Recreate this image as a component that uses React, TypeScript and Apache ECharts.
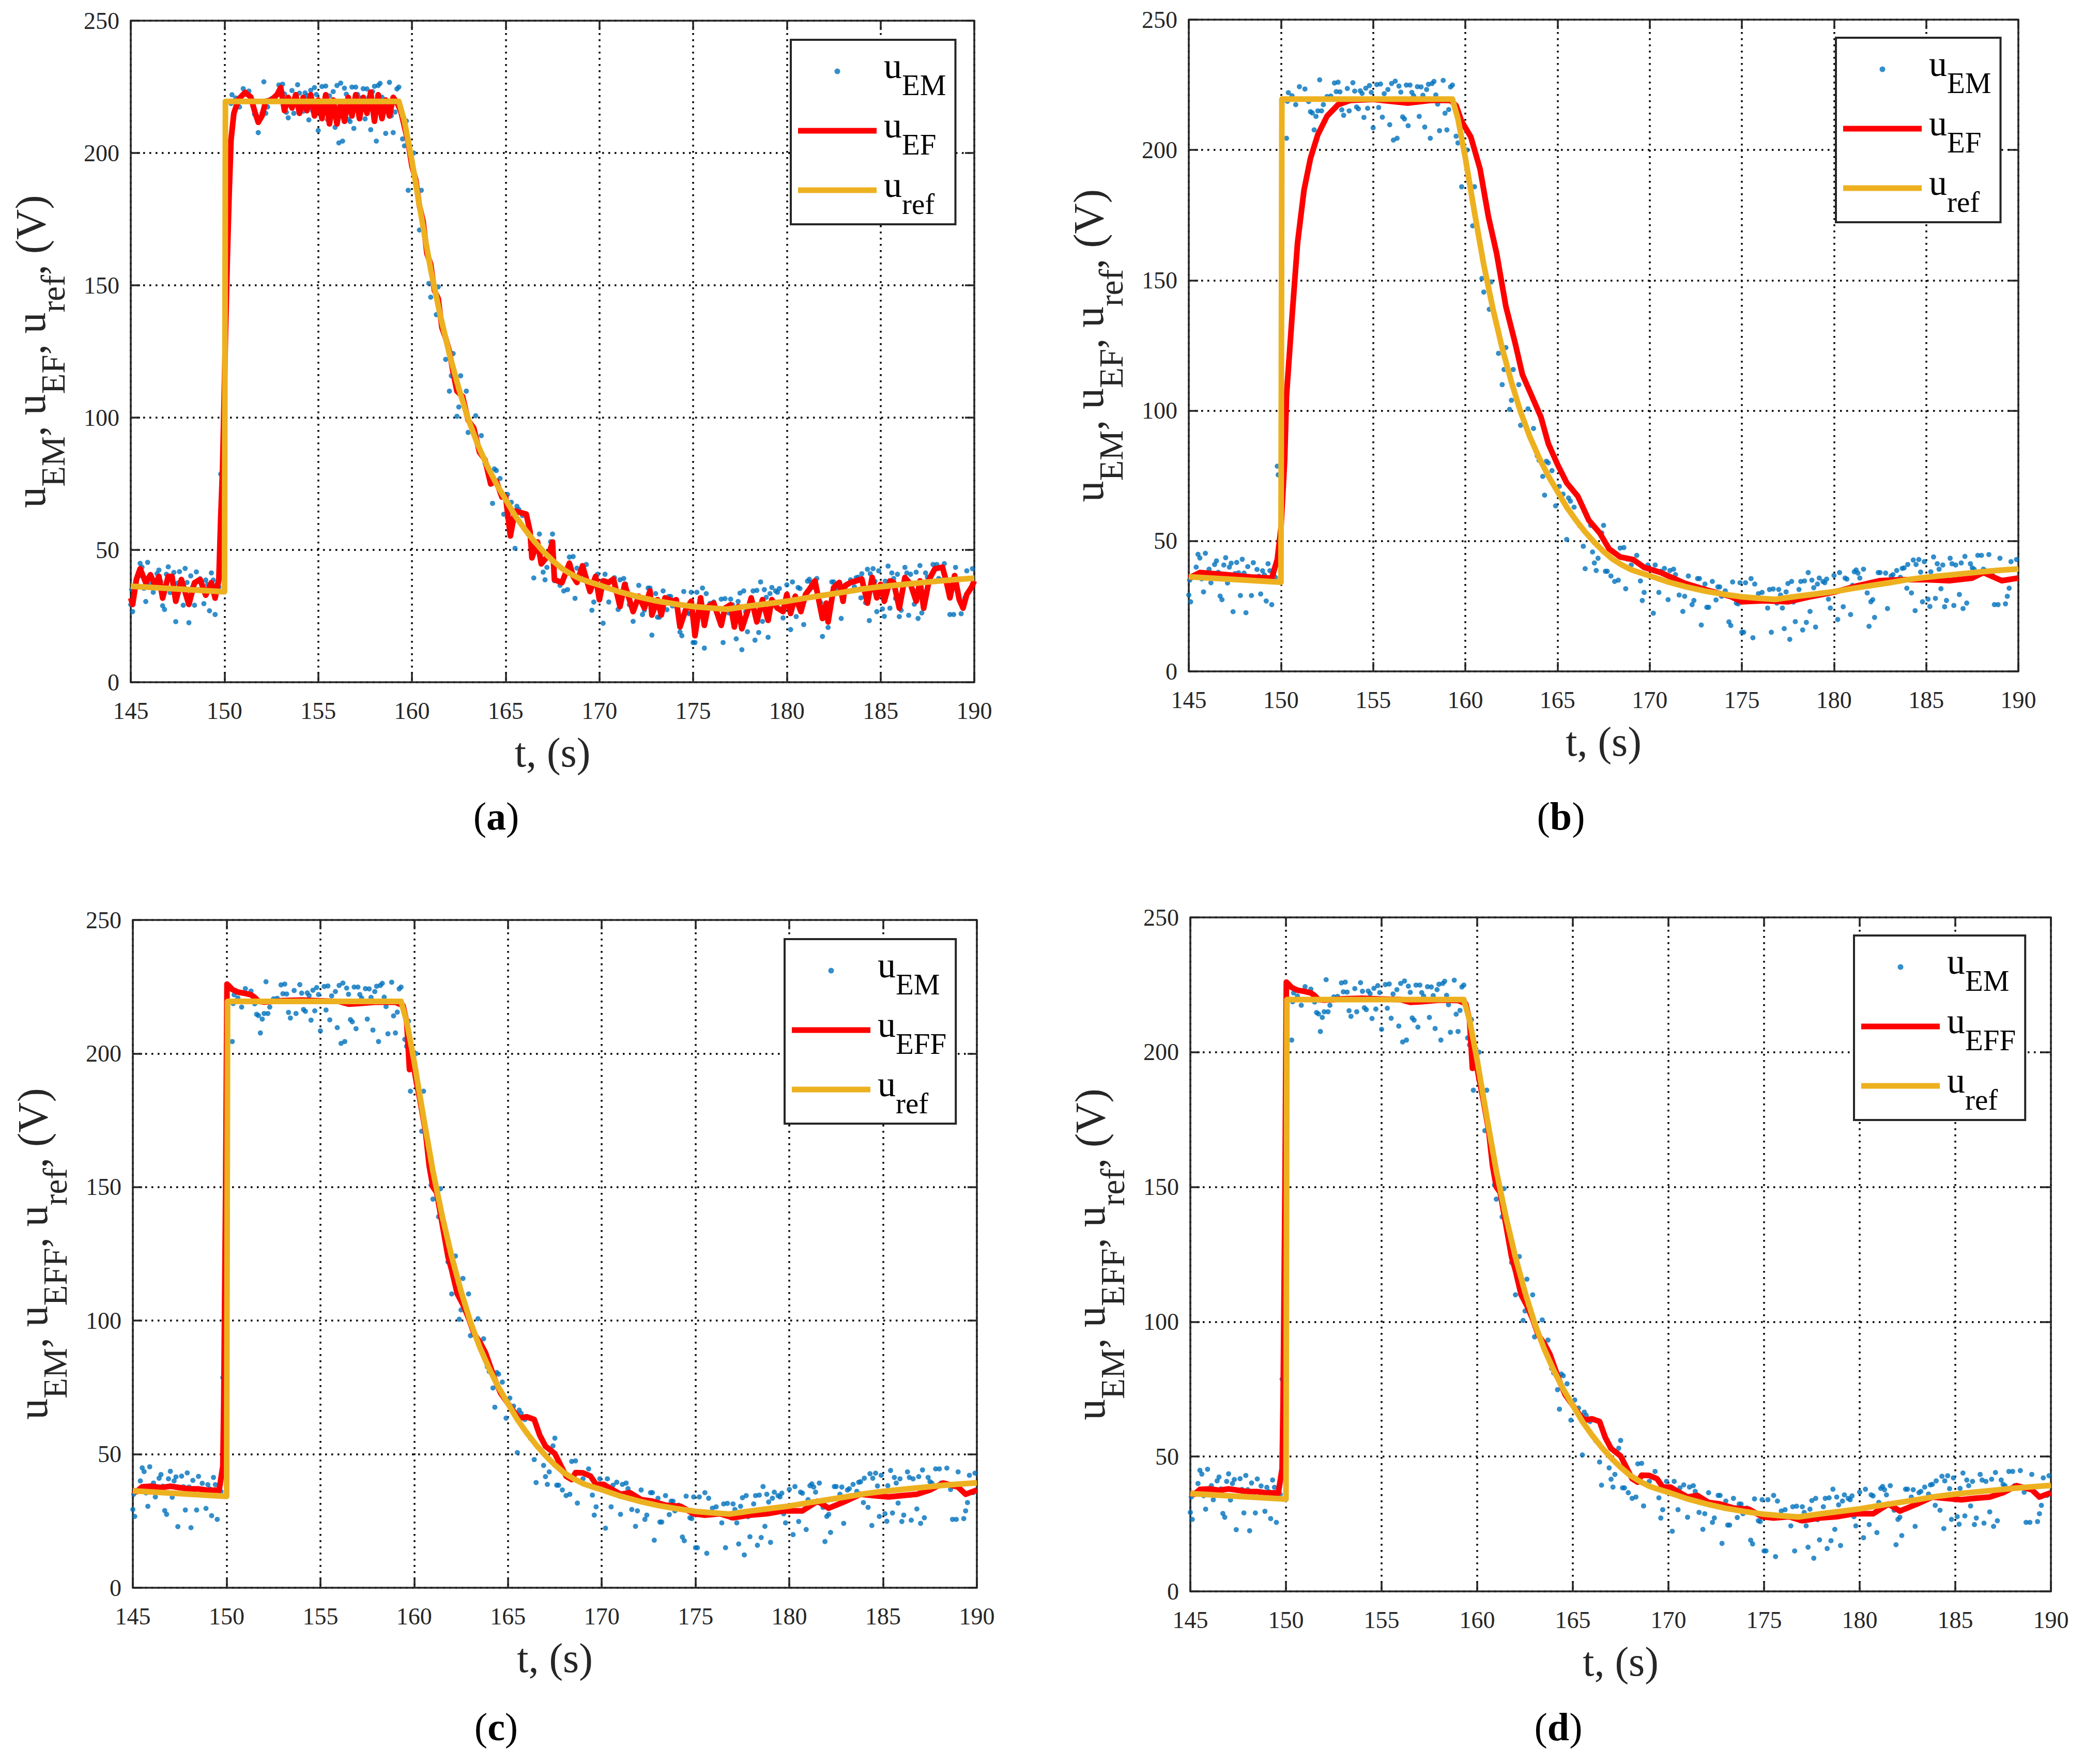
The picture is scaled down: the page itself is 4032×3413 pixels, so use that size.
import React, { useEffect, useRef } from "react";
import * as echarts from "echarts";

// ---------- data ----------
const xTicks = [145, 150, 155, 160, 165, 170, 175, 180, 185, 190];
const yTicks = [0, 50, 100, 150, 200, 250];

// measured voltage u_EM (same in all four panels): [t (s), V]
const uEM: number[][] = [
  [145.0,29.3],[145.05,35],[145.1,26.7],[145.2,36],[145.4,40],[145.5,44.9],[145.6,43.5],[145.7,35.5],[145.8,30.5],[145.9,45.3],
  [146.0,37],[146.1,39.2],[146.2,34],[146.3,36.5],[146.4,41],[146.5,42.4],[146.6,38],[146.7,28.9],[146.8,27.5],[146.9,40.8],
  [147.0,43.6],[147.1,33.9],[147.2,40],[147.3,41.5],[147.4,22.9],[147.5,37.5],[147.6,41.8],[147.7,37.8],[147.8,29.1],[147.9,43],
  [148.0,37.7],[148.1,22.5],[148.2,40.2],[148.3,36],[148.4,29.1],[148.5,41.7],[148.6,35],[148.7,39.1],[148.8,36.5],[148.9,29.7],
  [149.0,38.6],[149.1,37],[149.2,27],[149.3,41.3],[149.4,38.6],[149.5,25.6],[149.6,37],[149.7,36],[149.8,78.7],[149.85,75.4],
  [150.3,204.5],[150.35,218.7],[150.4,222],[150.6,220.8],[150.8,217.4],[151.0,224.3],[151.3,223.4],[151.5,218.6],[151.6,214.7],[151.7,214.2],
  [151.8,207.7],[151.9,212.9],[152.0,215],[152.1,226.9],[152.2,215],[152.3,217.4],[152.5,220.5],[152.7,220.7],[152.9,225.7],[153.0,222.4],
  [153.1,226],[153.2,222.3],[153.3,215.4],[153.4,213.3],[153.6,223.6],[153.7,215],[153.9,225.8],[154.0,222.6],[154.1,216.5],[154.2,215.8],
  [154.3,222.7],[154.4,221.7],[154.5,212.5],[154.6,223.7],[154.7,216],[154.8,224.7],[154.9,222.1],[155.0,208.5],[155.2,225.1],[155.3,216.3],
  [155.4,225.3],[155.5,212.6],[155.6,221.6],[155.8,223.2],[155.9,209.7],[156.0,225.5],[156.1,203.8],[156.2,226.4],[156.3,204.5],[156.4,224.5],
  [156.5,222.2],[156.6,212.7],[156.7,211.9],[156.8,224.9],[156.9,209.3],[157.0,224.9],[157.1,222.1],[157.2,220.8],[157.4,224.3],[157.5,212.9],
  [157.6,224.2],[157.7,221],[157.8,208.8],[157.9,223.2],[158.0,225.2],[158.1,204.5],[158.2,225.5],[158.3,226.3],[158.4,221.1],[158.5,217.6],
  [158.6,207.4],[158.8,226.7],[158.9,214.1],[159.0,207.7],[159.1,215.5],[159.2,224.2],[159.3,224.9],[159.5,205.3],[159.6,202.7],[159.7,212.1],
  [159.8,185.9],[160.1,200],[160.4,170.9],[160.5,185.9],[160.9,150.7],[161.0,145.5],[161.3,138.9],[161.4,149.4],[161.8,122],[162.0,110],
  [162.1,115.8],[162.2,124.2],[162.4,100.5],[162.5,104],[162.6,115.8],[162.9,110],[163.0,94.4],[163.4,100.7],[163.7,93.2],[163.9,82.7],
  [164.0,81],[164.2,74.8],[164.3,67.6],[164.4,80.6],[164.5,80],[164.7,77],[164.9,63.5],[165.1,71],[165.3,68],[165.5,50.6],
  [165.6,66.5],[165.7,65.3],[165.9,63],[166.2,55.9],[166.4,48],[166.5,39.4],[166.8,56],[166.9,45.8],[167.0,41.6],[167.1,38.7],
  [167.2,43.4],[167.4,53.1],[167.5,56],[167.6,38.4],[167.7,38.4],[167.9,36.6],[168.1,34.5],[168.3,35],[168.4,47.3],[168.6,47.5],
  [168.7,31.7],[168.8,43.1],[169.0,40.8],[169.3,44.5],[169.5,34.7],[169.6,27.2],[169.7,30.3],[169.9,40.8],
  [170.2,22.3],[170.3,40.8],[170.5,30.3],[170.6,38.4],[170.8,39.5],[171.0,27.5],[171.1,38.7],[171.3,39.2],[171.4,37.1],[171.5,33.5],
  [171.6,29.3],[171.8,23],[171.9,28.8],[172.1,36.6],[172.3,25.6],[172.4,27.2],[172.6,35.6],[172.7,35.6],[172.8,17.8],[173.0,33.5],
  [173.1,24.6],[173.2,24.6],[173.4,34.5],[173.6,27.4],[173.7,32.4],[173.8,32.4],[173.9,28.8],[174.1,30.9],[174.3,19],[174.4,17.6],
  [174.5,34.3],[174.7,26.2],[174.8,25.9],[174.9,34],[175.0,15],[175.1,15],[175.2,34],[175.4,28.2],[175.5,35.6],[175.6,12.9],
  [175.7,33.5],[175.9,29.8],[176.1,30.3],[176.4,24.3],[176.5,31.4],[176.6,15],[176.7,31.6],[176.9,26.2],[177.0,31.4],[177.1,29.3],
  [177.2,24.3],[177.3,16.4],[177.4,30.5],[177.5,33.7],[177.6,12.3],[177.7,34.5],[177.8,26.6],[177.9,19.1],[178.1,31.4],[178.2,34.5],
  [178.3,15.9],[178.4,34.7],[178.5,18.8],[178.6,37.9],[178.7,23],[178.8,35],[178.9,32.1],[179.0,17],[179.1,33.5],[179.2,35.8],
  [179.4,34.5],[179.5,34],[179.6,35.4],[179.7,27.7],[179.8,24.3],[180.0,36.8],[180.2,19.9],[180.3,37.9],[180.5,24.8],[180.6,35.8],
  [180.7,35.4],[180.9,21.8],[181.0,33],[181.1,38.2],[181.2,38.9],[181.3,37.7],[181.4,35.8],[181.6,39.2],[181.8,30.1],[181.9,17.3],
  [182.0,26.7],[182.1,27.5],[182.2,20.7],[182.4,37.9],[182.5,37.9],[182.7,35],[182.8,37.7],[182.9,24.1],[183.1,36.6],[183.2,37.1],
  [183.4,38.7],[183.6,36.1],[183.7,39.5],[183.8,39.7],[183.95,31.9],[184.0,41],[184.2,30.1],[184.3,42.7],[184.4,23.3],[184.45,41],
  [184.6,42.9],[184.7,38.1],[184.8,26.7],[184.9,42.1],[185.1,27.7],[185.2,24.9],[185.25,38.2],[185.4,43.9],[185.5,28],[185.6,41.3],
  [185.7,39.2],[185.8,31.7],[185.9,40.8],[186.0,24.8],[186.1,27.2],[186.3,43.4],[186.4,41.3],[186.5,25.3],[186.6,40.8],[186.8,29.5],
  [186.9,41.6],[187.0,24.1],[187.1,44.1],[187.2,26.2],[187.4,41.3],[187.5,39.7],[187.6,39.2],[187.8,44.5],[188.0,44.5],[188.1,39.2],
  [188.2,38.7],[188.4,44.8],[188.6,36.8],[188.7,25.6],[188.9,25.6],[189.0,43.4],[189.3,25.9],[189.4,28.8],[189.5,31.9],[189.6,42.1],
  [189.8,35.6],[189.9,42.9],
];

// reference u_ref (same in all panels)
const uRef: number[][] = [
  [145,36.3],[150.0,34.2],[150.05,219.5],[159.3,219.5],[159.6,212],[160,197],[160.5,176],[161,156],[161.5,139],[162,124],
  [162.5,111],[163,99.5],[163.5,90],[164,82],[164.5,75],[165,69],[165.5,63],[166,58],[166.5,53.5],[167,49.5],
  [167.5,46],[168,43],[168.5,40.8],[169,39],[169.5,37.8],[170,36.7],[171,34.3],[172,32.4],[173,30.8],[174,29.6],
  [175,28.6],[176,28],[176.8,27.6],[177.5,28.3],[178,28.8],[179,29.7],[180,30.6],[181,31.8],[182,32.9],[183,34],
  [184,35.2],[185,36.1],[186,36.8],[187,37.5],[188,38.2],[189,38.8],[190,39.3],
];

// panel (a): u_EF (noisy)
const uEF_a: number[][] = [
  [145.0,31.8],[145.1,29.4],[145.3,38.8],[145.5,42.9],[145.8,37.6],[146.05,40.6],[146.3,36.5],[146.5,40],[146.7,31.8],[147.0,40],
  [147.2,40],[147.4,30.6],[147.7,38.8],[148.1,29.4],[148.4,37.6],[148.7,38.8],[149.0,32.9],[149.3,37.6],[149.5,31.8],[149.7,38.8],
  [149.8,62.4],[149.9,81],[150.05,130],[150.15,160],[150.25,185],[150.35,205],[150.5,215],[150.75,220.3],[151.1,222.9],[151.4,221.2],
  [151.6,216],[151.8,211.6],[152.0,214],[152.2,219.5],[152.5,220],[152.8,222],[153.0,224.7],[153.2,216],[153.4,221],[153.6,217],
  [153.8,222],[154.0,215],[154.2,221],[154.4,216],[154.6,222],[154.8,214],[155.0,220],[155.2,213],[155.4,222],[155.6,211],
  [155.8,220],[156.0,211],[156.2,219],[156.4,212],[156.6,221],[156.8,214],[157.0,222],[157.2,213],[157.4,221],[157.6,215],
  [157.8,223],[158.0,212],[158.2,222],[158.4,213],[158.6,220],[158.8,214],[159.0,221],[159.2,219],[159.4,216],[159.6,210],
  [159.8,204],[160.0,195],[160.2,190],[160.4,180],[160.6,174],[160.8,162],[161.0,158],[161.2,148],[161.4,145],[161.6,134],
  [161.8,130],[162.0,125],[162.2,117],[162.4,110],[162.7,108],[163.0,99],[163.3,96],[163.6,87],[163.9,84],[164.2,75],
  [164.5,76],[164.8,70],[165.0,70],[165.25,55.3],[165.5,64.7],[166.1,63.5],[166.3,57],[166.4,47],[166.7,53],[166.9,44.7],
  [167.3,48.2],[167.5,53],[167.6,38.8],[168.0,37.6],[168.4,45],[168.6,40],[168.8,37.7],[169.1,44],[169.5,34.3],[169.8,40],
  [170.0,31.2],[170.2,38.3],[170.5,37.7],[170.75,39],[171.1,28.6],[171.35,37],[171.8,26.7],[172.1,32.5],[172.4,28],[172.7,34.5],
  [172.8,25.4],[173.1,31.2],[173.3,25.4],[173.5,31.9],[173.9,30.6],[174.1,31.2],[174.3,20.9],[174.6,27.3],[174.9,30.6],[175.1,17.6],
  [175.4,31.9],[175.6,21.5],[175.8,28.6],[176.1,29.9],[176.5,21.5],[176.7,28],[177.0,29.3],[177.2,20.9],[177.4,28.6],[177.6,20.2],
  [177.9,26.7],[178.1,31.9],[178.4,22.8],[178.7,31.2],[179.0,23.4],[179.2,31.2],[179.5,28],[179.8,26.7],[180.0,33.2],[180.2,26],
  [180.45,32.5],[180.75,26.7],[181.0,33.2],[181.2,35.1],[181.5,38.3],[181.9,24.1],[182.1,29.9],[182.2,22.8],[182.5,35.8],[182.8,37.7],
  [183.0,30.6],[183.1,36.4],[183.4,37.7],[183.7,38.3],[184.0,39],[184.3,29.9],[184.55,39.6],[184.8,31.9],[185.0,37],[185.2,30.6],
  [185.5,38.3],[185.7,37.7],[186.0,28],[186.3,39.6],[186.6,37],[186.9,30.6],[187.1,38.3],[187.3,28],[187.6,39],[187.9,42.9],
  [188.3,43.5],[188.5,38.3],[188.7,31.9],[188.95,40.3],[189.2,31.2],[189.4,28],[189.6,33.2],[189.85,35.8],[190.0,38.3],
];

// panel (b): u_EF (slow first-order response)
const uEF_b: number[][] = [
  [145,35.8],[145.6,37.9],[146.9,37.2],[148.4,36.2],[149.5,35.8],[149.8,42.9],[150.0,55],[150.2,81],[150.3,105.7],[150.6,136],
  [150.9,164.4],[151.25,184.6],[151.6,196.8],[152.0,205.9],[152.5,213],[153.1,217.4],[153.75,219],[155,219.4],[156.9,218],[158.1,219],
  [159.2,219],[159.5,217],[159.8,211],[160.3,205],[160.8,192.7],[161.25,174.5],[161.7,160.3],[162.2,140],[162.7,126],[163.1,113.8],
  [163.6,105.7],[164.1,97.6],[164.5,87.4],[165.0,79.4],[165.5,72.3],[166.1,67.2],[166.7,58],[167.3,53],[167.8,47],[168.4,43.9],
  [169.1,42.9],[169.7,39.9],[170.6,37.9],[171.9,33.8],[173.1,31.2],[174.4,28.7],[175,26.7],[176.25,27.1],[177.5,26.7],[178.75,28.7],
  [180,30.4],[181.25,32.8],[182.5,34.8],[183.75,35.2],[185,35.2],[186.25,34.8],[187.5,35.8],[188.1,37.9],[189.1,34.8],[190,35.8],
];

// panels (c) and (d): u_EFF
const uEFF: number[][] = [
  [145.0,36.5],[145.2,36],[145.5,37.8],[146.0,38],[146.5,37.5],[147.0,38],[147.5,37.5],[148.0,37],[148.5,37],[149.0,36.5],
  [149.6,36.5],[149.8,45.5],[149.85,70],[149.95,150],[150.02,226],[150.1,225.5],[150.3,224],[150.6,223],[151.0,222.5],[151.3,222],
  [151.5,221],[151.7,219.5],[152.0,219.3],[152.5,219.5],[153.0,219.8],[154.0,220],[155.0,219.7],[156.0,219.5],[156.5,218.5],[157.0,218.7],
  [157.5,219],[158.0,219.3],[159.0,219.2],[159.4,218],[159.6,212],[159.75,194],[159.9,198],[160.1,190],[160.3,183],[160.6,171],
  [160.8,158],[161.0,150],[161.2,148],[161.5,136],[161.8,124],[162.0,119],[162.3,110],[162.6,106],[162.9,101],[163.2,95],
  [163.5,92],[163.8,88],[164.0,84],[164.3,78],[164.6,73],[165.0,69],[165.3,66],[165.6,63.5],[166.0,64],[166.4,63],
  [166.7,57],[167.0,53],[167.5,50.2],[167.8,46],[168.1,41.8],[168.4,40.5],[168.6,43.1],[169.0,43],[169.4,41.8],[169.7,38.7],
  [170.1,38.7],[170.5,37],[171.0,35],[171.5,35.6],[172.1,33],[172.7,32.4],[173.4,30.9],[174.2,30.5],[174.9,27.7],[175.5,27.2],
  [176.3,27.7],[177.0,26.2],[177.9,27.2],[178.8,27.7],[179.7,28.8],[180.7,28.8],[181.5,32.4],[182.1,29.8],[183.0,32.4],[183.8,35],
  [184.5,34.5],[185.3,34],[186.0,34.5],[186.8,35],[187.5,36.6],[188.2,39.2],[189.0,37.7],[189.4,35],[190.0,36.6],
];

// ---------- styling ----------
const FONT = '"Liberation Serif", "Times New Roman", Times, serif';
const AX = "#262626";
const BLUE = "#0072BD";
const RED = "#FF0000";
const ORANGE = "#EDB120";

type Panel = {
  key: string;
  grid: { left: number; top: number; width: number; height: number };
  red: number[][];
  redSub: string;
  legend: { left: number; top: number };
  caption: { x: number; y: number; letter: string };
};

const panels: Panel[] = [
  { key: "a", grid: { left: 253, top: 40, width: 1632, height: 1280 }, red: uEF_a, redSub: "EF",
    legend: { left: 1530, top: 77 }, caption: { x: 960, y: 1579, letter: "a" } },
  { key: "b", grid: { left: 2300, top: 38, width: 1605, height: 1261 }, red: uEF_b, redSub: "EF",
    legend: { left: 3552, top: 73 }, caption: { x: 3020, y: 1579, letter: "b" } },
  { key: "c", grid: { left: 257, top: 1780, width: 1633, height: 1292 }, red: uEFF, redSub: "EFF",
    legend: { left: 1518, top: 1817 }, caption: { x: 960, y: 3341, letter: "c" } },
  { key: "d", grid: { left: 2303, top: 1775, width: 1665, height: 1304 }, red: uEFF, redSub: "EFF",
    legend: { left: 3587, top: 1810 }, caption: { x: 3015, y: 3341, letter: "d" } },
];

function buildOption() {
  const grid: any[] = [];
  const xAxis: any[] = [];
  const yAxis: any[] = [];
  const series: any[] = [];
  const legend: any[] = [];
  const graphic: any[] = [];
  const labelMap: Record<string, string> = {};

  const tickStyle = { color: AX, width: 3.5 };
  const split = { show: true, lineStyle: { color: "#000", width: 3.5, type: [3.5, 8.5] } };

  panels.forEach((p, i) => {
    grid.push({ ...p.grid, containLabel: false, outerBoundsMode: "none" });
    const xb = xAxis.length;
    xAxis.push({
      type: "value", gridIndex: i, position: "bottom", min: xTicks[0], max: xTicks[xTicks.length - 1], interval: 5,
      axisLine: { show: true, onZero: false, lineStyle: tickStyle },
      axisTick: { show: true, inside: true, length: 18, lineStyle: tickStyle },
      axisLabel: { show: true, margin: 32, fontFamily: FONT, fontSize: 46, lineHeight: 46, color: AX },
      splitLine: split,
      name: "t, (s)", nameLocation: "middle", nameGap: 96,
      nameTextStyle: { fontFamily: FONT, fontSize: 80, lineHeight: 80, color: AX },
    });
    xAxis.push({
      type: "value", gridIndex: i, position: "top", min: xTicks[0], max: xTicks[xTicks.length - 1], interval: 5,
      axisLine: { show: true, onZero: false, lineStyle: tickStyle },
      axisTick: { show: true, inside: true, length: 18, lineStyle: tickStyle },
      axisLabel: { show: false }, splitLine: { show: false },
    });
    const yl = yAxis.length;
    yAxis.push({
      type: "value", gridIndex: i, position: "left", min: yTicks[0], max: yTicks[yTicks.length - 1], interval: 50,
      axisLine: { show: true, onZero: false, lineStyle: tickStyle },
      axisTick: { show: true, inside: true, length: 18, lineStyle: tickStyle },
      axisLabel: { show: true, margin: 22, fontFamily: FONT, fontSize: 46, lineHeight: 46, color: AX },
      splitLine: split,
      name: `{u|u}{s|EM}{u|, u}{s|${p.redSub}}{u|, u}{s|ref}{u|, (V)}`,
      nameLocation: "middle", nameRotate: 90, nameGap: 144,
      nameTextStyle: {
        fontFamily: FONT, color: AX,
        rich: {
          u: { fontFamily: FONT, fontSize: 82, lineHeight: 100, color: AX },
          s: { fontFamily: FONT, fontSize: 65, lineHeight: 100, color: AX, padding: [88, 0, 0, 0] },
        },
      },
    });
    yAxis.push({
      type: "value", gridIndex: i, position: "right", min: yTicks[0], max: yTicks[yTicks.length - 1], interval: 50,
      axisLine: { show: true, onZero: false, lineStyle: tickStyle },
      axisTick: { show: true, inside: true, length: 18, lineStyle: tickStyle },
      axisLabel: { show: false }, splitLine: { show: false },
    });

    const nEM = `${p.key}-uEM`, nRed = `${p.key}-red`, nRef = `${p.key}-ref`;
    labelMap[nEM] = "{u|u}{s|EM}";
    labelMap[nRed] = `{u|u}{s|${p.redSub}}`;
    labelMap[nRef] = "{u|u}{s|ref}";

    series.push({
      name: nEM, type: "scatter", xAxisIndex: xb, yAxisIndex: yl, data: uEM,
      symbol: "circle", symbolSize: 10, itemStyle: { color: BLUE }, z: 2,
    });
    series.push({
      name: nRed, type: "line", xAxisIndex: xb, yAxisIndex: yl, data: p.red,
      symbol: "none", showSymbol: false, itemStyle: { color: RED },
      lineStyle: { color: RED, width: 11, join: "round" }, z: 3,
    });
    series.push({
      name: nRef, type: "line", xAxisIndex: xb, yAxisIndex: yl, data: uRef,
      symbol: "none", showSymbol: false, itemStyle: { color: ORANGE },
      lineStyle: { color: ORANGE, width: 11, join: "round" }, z: 4,
    });

    legend.push({
      show: true, orient: "vertical", left: p.legend.left, top: p.legend.top,
      padding: [11, 18, 11, 14], itemGap: 10, itemWidth: 152, itemHeight: 11,
      backgroundColor: "#fff", borderColor: AX, borderWidth: 4, borderRadius: 0,
      selectedMode: false,
      data: [
        { name: nEM, icon: "circle", itemStyle: { color: BLUE } },
        { name: nRed, icon: "rect", itemStyle: { color: RED } },
        { name: nRef, icon: "rect", itemStyle: { color: ORANGE } },
      ],
      formatter: (name: string) => labelMap[name] || name,
      textStyle: {
        fontFamily: FONT, color: "#000",
        rich: {
          u: { fontFamily: FONT, fontSize: 70, lineHeight: 100, height: 78, verticalAlign: "top", color: "#000", padding: [0, 0, 0, 9] },
          s: { fontFamily: FONT, fontSize: 57, lineHeight: 100, height: 47, verticalAlign: "bottom", color: "#000" },
        },
      },
    });

    graphic.push({
      type: "text", x: p.caption.x, y: p.caption.y, z: 10,
      style: {
        text: `{p|(}{b|${p.caption.letter}}{p|)}`,
        x: 0, y: 0, align: "center", verticalAlign: "middle",
        fontFamily: FONT, fontSize: 76, fill: "#000",
        rich: {
          p: { fontFamily: FONT, fontSize: 76, fill: "#000", color: "#000" },
          b: { fontFamily: FONT, fontSize: 76, fontWeight: "bold", fill: "#000", color: "#000" },
        },
      },
    });
  });

  return {
    animation: false,
    backgroundColor: "#ffffff",
    grid, xAxis, yAxis, series, legend, graphic,
  };
}

export default function App() {
  const ref = useRef<HTMLDivElement | null>(null);
  useEffect(() => {
    if (!ref.current) return;
    const chart = echarts.init(ref.current, null, { renderer: "svg", width: 4032, height: 3413 });
    chart.setOption(buildOption() as any);
    return () => chart.dispose();
  }, []);
  return (
    <div
      ref={ref}
      style={{ position: "absolute", left: 0, top: 0, width: 4032, height: 3413, background: "#fff" }}
    />
  );
}
